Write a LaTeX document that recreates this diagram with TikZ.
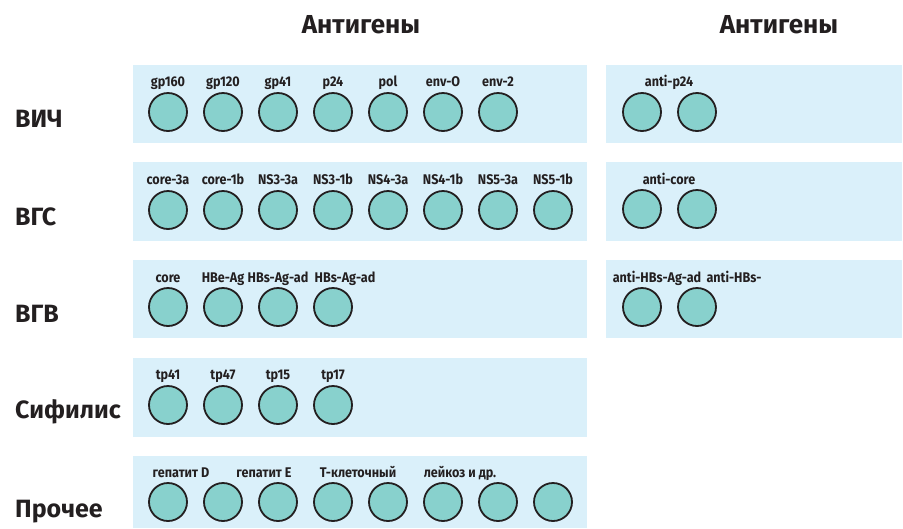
\documentclass[tikz,border=0pt]{standalone}
\usepackage{fontspec}
\setmainfont{Fira Sans}
\newfontfamily\tagfont{Fira Sans}[FakeStretch=0.9]
\definecolor{panelblue}{HTML}{DAF0FA}
\definecolor{wellfill}{HTML}{88D1CD}
\definecolor{inkdark}{HTML}{231F20}

\tikzset{
  panel/.style={fill=panelblue, draw=none},
  well/.style={circle, draw=inkdark, line width=1.8pt, fill=wellfill,
    minimum size=38pt, inner sep=0pt},
  tag/.style={font=\tagfont\bfseries\fontsize{14}{16}\selectfont, text=inkdark,
    inner sep=0pt, anchor=base},
  rowname/.style={font=\bfseries\fontsize{25}{28}\selectfont, text=inkdark,
    inner sep=0pt, anchor=base west},
  heading/.style={font=\bfseries\fontsize{26}{29}\selectfont, text=inkdark,
    inner sep=0pt, anchor=base}
}

\begin{document}
\begin{tikzpicture}[x=1pt, y=-1pt]
    \useasboundingbox (0,0) rectangle (903,528);

    % panels
    \fill[panel] (133,65)  rectangle (587,143);
    \fill[panel] (133,162) rectangle (587,241);
    \fill[panel] (133,260) rectangle (587,338);
    \fill[panel] (133,358) rectangle (587,437);
    \fill[panel] (133,456) rectangle (587,528);
    \fill[panel] (606,65)  rectangle (902,143);
    \fill[panel] (606,162) rectangle (902,241);
    \fill[panel] (606,260) rectangle (902,338);

    \node[heading] (headL) at (361,33) {Антигены};
    \node[heading] (headR) at (779,33) {Антигены};

    \node[rowname] (hiv)   at (15,127) {ВИЧ};
    \node[rowname] (hcv)   at (15,225) {ВГС};
    \node[rowname] (hbv)   at (15,322) {ВГВ};
    \node[rowname] (syph)  at (15,418) {Сифилис};
    \node[rowname] (other) at (15,517) {Прочее};

    % wells
    \foreach \i in {1,...,7} \node[well] (hivw\i) at ({113+55*\i},112) {};
    \foreach \i in {1,...,8} \node[well] (hcvw\i) at ({113+55*\i},210) {};
    \foreach \i in {1,...,4} \node[well] (hbvw\i) at ({113+55*\i},307) {};
    \foreach \i in {1,...,4} \node[well] (syphw\i) at ({113+55*\i},405) {};
    \foreach \i in {1,...,8} \node[well] (otherw\i) at ({113+55*\i},502) {};
    \foreach \i in {1,2} {
      \node[well] (ahivw\i) at ({587+55*\i},112) {};
      \node[well] (ahcvw\i) at ({587+55*\i},209) {};
      \node[well] (ahbvw\i) at ({587+55*\i},307) {};
    }

    % antigen labels
    \foreach \i/\t in {1/gp160, 2/gp120, 3/gp41, 4/p24, 5/pol, 6/env-O, 7/env-2}
      \node[tag] at ({113+55*\i},86) {\t};
    \foreach \i/\t in {1/core-3a, 2/core-1b, 3/NS3-3a, 4/NS3-1b, 5/NS4-3a, 6/NS4-1b, 7/NS5-3a, 8/NS5-1b}
      \node[tag] at ({113+55*\i},184) {\t};
    \foreach \x/\t in {168/core, 223/HBe-Ag, 278/HBs-Ag-ad, 345/HBs-Ag-ad}
      \node[tag] at (\x,282) {\t};
    \foreach \i/\t in {1/tp41, 2/tp47, 3/tp15, 4/tp17}
      \node[tag] at ({113+55*\i},379) {\t};
    \foreach \x/\t in {181/гепатит D, 264/гепатит E, 358/Т-клеточный, 460/лейкоз и др.}
      \node[tag] at (\x,477) {\t};

    \node[tag] at (669,86)  {anti-p24};
    \node[tag] at (669,184) {anti-core};
    \node[tag] at (657,282) {anti-HBs-Ag-ad};
    \node[tag] at (734,282) {anti-HBs-};
\end{tikzpicture}
\end{document}
